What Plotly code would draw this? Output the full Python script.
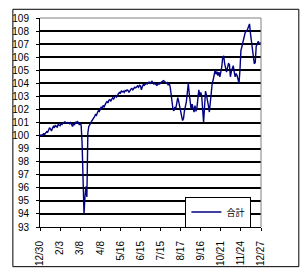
import plotly.graph_objects as go

tick_labels = ["12/30", "2/3", "3/8", "4/8", "5/16", "6/15", "7/15",
               "8/17", "9/16", "10/21", "11/24", "12/27"]
label_step = 21

series_name = "合計"
values = [
    99.95, 100.05, 100.0, 100.1, 100.15, 100.1, 100.2, 100.3, 100.25, 100.45,
    100.6, 100.5, 100.35, 100.55, 100.7, 100.6, 100.8, 100.7, 100.65, 100.85,
    100.8, 100.75, 100.9, 100.85, 100.95, 101.0, 101.05, 101.0, 100.95, 101.0,
    100.95, 100.9, 101.0, 100.85, 100.7, 100.9, 100.8, 101.05, 100.9, 101.1,
    100.95, 100.85, 100.9, 100.8, 99.4, 96.1, 94.0, 95.3, 96.1, 95.3,
    100.2, 100.7, 100.9, 100.95, 101.1, 101.2, 101.3, 101.45, 101.6, 101.55,
    101.75, 101.9, 101.85, 102.05, 102.2, 102.1, 102.3, 102.2, 102.45, 102.5,
    102.6, 102.5, 102.7, 102.75, 102.65, 102.85, 102.9, 102.8, 103.0, 103.05,
    102.95, 103.15, 103.2, 103.3, 103.25, 103.4, 103.35, 103.4, 103.3, 103.45,
    103.4, 103.5, 103.45, 103.3, 103.5, 103.55, 103.6, 103.5, 103.6, 103.7,
    103.65, 103.75, 103.8, 103.7, 103.85, 103.8, 103.5, 103.75, 103.9, 103.85,
    103.95, 104.0, 103.95, 104.05, 104.1, 104.0, 104.1, 104.15, 104.05, 103.95,
    104.0, 103.9, 103.85, 103.9, 104.0, 103.95, 104.05, 104.1, 104.15, 104.2,
    104.15, 104.1, 104.0, 104.05, 103.85, 104.0, 103.75, 103.2, 102.6, 102.0,
    101.9, 102.2, 102.1, 102.5, 102.9, 102.6, 102.3, 101.9, 101.5, 101.15,
    101.3, 101.9, 102.2, 102.6, 103.3, 104.0, 103.2, 102.5, 102.0, 102.4,
    102.0, 101.8, 102.3, 101.85, 102.1, 103.0, 103.5, 103.1, 103.3, 103.05,
    101.9, 101.0, 102.2, 103.4, 103.1, 102.8, 102.3, 101.8, 102.6, 103.3,
    104.0, 104.25, 104.6, 105.0, 104.7, 104.9, 104.6, 104.85, 104.5, 104.9,
    105.25, 106.0, 106.1, 105.5, 105.0, 104.85, 105.2, 105.5, 105.45, 104.5,
    104.9, 105.1, 105.35, 104.9, 104.5, 104.75, 104.6, 104.3, 104.0, 105.0,
    106.5, 106.8, 107.1, 107.6, 107.8, 108.05, 107.95, 108.2, 108.3, 108.55,
    107.8, 107.1, 106.8, 106.2, 105.5, 105.6, 106.85, 107.0, 107.2, 107.1,
    106.95, 107.15,
]

y_min, y_max = 93, 109
y_ticks = list(range(y_min, y_max + 1))

x = list(range(len(values)))
tickvals = [i * label_step for i in range(len(tick_labels))]

num_font = "Liberation Sans, Arial, sans-serif"
cjk_font = "Noto Sans CJK JP, sans-serif"

L, R, T, B = 33, 261, 13, 229
W, H = 306, 278
pw, ph = R - L, B - T

def px_x(px):
    return (px - L) / pw

def px_y(py):
    return (B - py) / ph

fig = go.Figure()
fig.add_trace(go.Scatter(
    x=x, y=values, mode="lines", name=series_name,
    line=dict(color="#000080", width=1.4),
    showlegend=True,
))

shapes = [
    dict(type="line", xref="paper", yref="paper", x0=0, x1=1, y0=1, y1=1,
         line=dict(color="#808080", width=1)),
    dict(type="line", xref="paper", yref="paper", x0=1, x1=1, y0=0, y1=1,
         line=dict(color="#808080", width=1)),
    dict(type="rect", xref="paper", yref="paper",
         x0=px_x(5), x1=px_x(300), y0=px_y(270), y1=px_y(4),
         line=dict(color="black", width=1), fillcolor="rgba(0,0,0,0)"),
]

fig.update_layout(
    width=W, height=H,
    margin=dict(l=L, r=W - R, t=T, b=H - B),
    paper_bgcolor="white", plot_bgcolor="white",
    font=dict(family=num_font, size=10, color="black"),
    legend=dict(
        x=px_x(183), y=px_y(213.5), xanchor="left", yanchor="middle",
        bgcolor="white", bordercolor="black", borderwidth=1,
        font=dict(size=9, family=cjk_font), itemwidth=30,
        tracegroupgap=0,
    ),
    xaxis=dict(
        range=[0, len(values) - 1],
        tickmode="array", tickvals=tickvals, ticktext=tick_labels,
        tickangle=-90, ticks="outside", ticklen=3, tickcolor="black",
        showline=True, linecolor="black", linewidth=1,
        showgrid=False, zeroline=False,
        ticklabelstandoff=6,
        tickfont=dict(size=10, family=num_font),
    ),
    yaxis=dict(
        range=[y_min, y_max],
        tickmode="array", tickvals=y_ticks,
        ticks="outside", ticklen=3, tickcolor="black",
        showline=True, linecolor="black", linewidth=1,
        showgrid=True, gridcolor="#000000", gridwidth=2,
        zeroline=False,
        ticklabelstandoff=5,
        tickfont=dict(size=10, family=num_font),
    ),
    shapes=shapes,
)

fig.write_html("out.html")
